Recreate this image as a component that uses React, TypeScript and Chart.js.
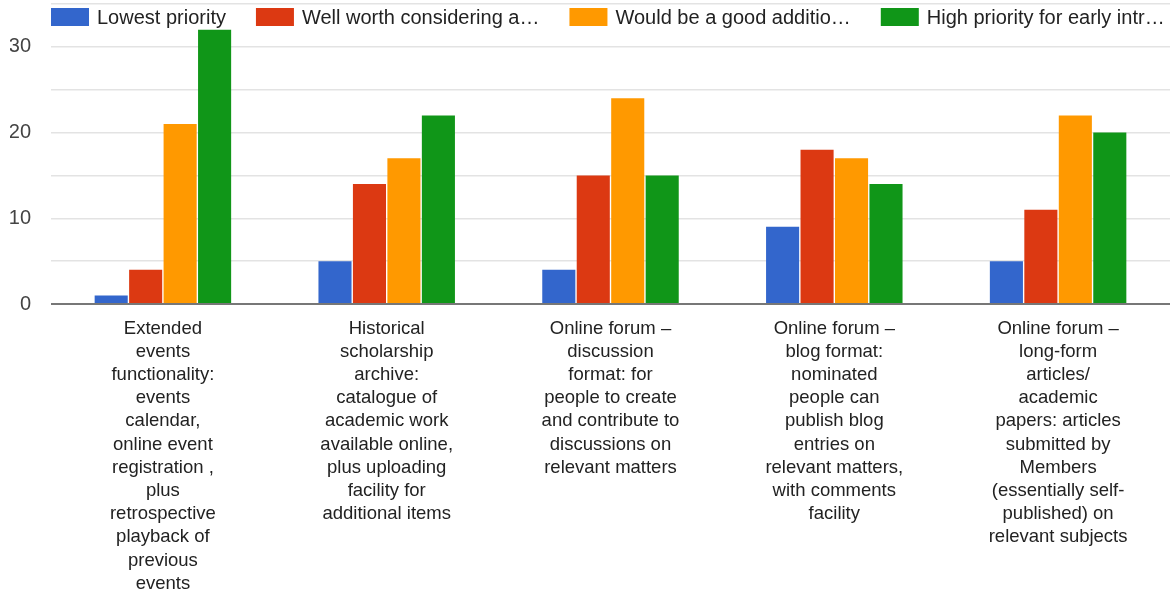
import React, { useEffect, useRef } from "react";
import { Chart, registerables } from "chart.js";

Chart.register(...registerables);

const categories: string[][] = [
  ["Extended", "events", "functionality:", "events", "calendar,", "online event", "registration ,", "plus", "retrospective", "playback of", "previous", "events"],
  ["Historical", "scholarship", "archive:", "catalogue of", "academic work", "available online,", "plus uploading", "facility for", "additional items"],
  ["Online forum –", "discussion", "format: for", "people to create", "and contribute to", "discussions on", "relevant matters"],
  ["Online forum –", "blog format:", "nominated", "people can", "publish blog", "entries on", "relevant matters,", "with comments", "facility"],
  ["Online forum –", "long-form", "articles/", "academic", "papers: articles", "submitted by", "Members", "(essentially self-", "published) on", "relevant subjects"],
];

const seriesLabels = [
  "Lowest priority",
  "Well worth considering a…",
  "Would be a good additio…",
  "High priority for early intr…",
];

const lowest = [1, 5, 4, 9, 5];
const wellWorth = [4, 14, 15, 18, 11];
const goodAddition = [21, 17, 24, 17, 22];
const highPriority = [32, 22, 15, 14, 20];

const colors = ["#3366cc", "#dc3912", "#ff9900", "#109618"];

const yTicks = [0, 10, 20, 30];

const FONT = "'Liberation Sans', Arial, sans-serif";

const legendPlugin = {
  id: "customLegend",
  afterDraw(chart: any) {
    const { ctx, chartArea } = chart;
    ctx.save();
    ctx.font = `20px ${FONT}`;
    ctx.textBaseline = "middle";
    ctx.textAlign = "left";
    let x = chartArea.left;
    const boxTop = 8;
    const boxH = 18;
    const boxW = 38;
    chart.data.datasets.forEach((ds: any) => {
      ctx.fillStyle = ds.backgroundColor;
      ctx.fillRect(x, boxTop, boxW, boxH);
      x += boxW + 8;
      ctx.fillStyle = "#222222";
      ctx.fillText(ds.label, x, boxTop + boxH / 2 + 1);
      x += ctx.measureText(ds.label).width + 30;
    });
    ctx.restore();
  },
};

export default function App() {
  const ref = useRef<HTMLCanvasElement>(null);

  useEffect(() => {
    document.body.style.margin = "0";
    const seriesValues = [lowest, wellWorth, goodAddition, highPriority];
    const chart = new Chart(ref.current as HTMLCanvasElement, {
      type: "bar",
      data: {
        labels: categories,
        datasets: seriesValues.map((vals, i) => ({
          label: seriesLabels[i],
          data: vals,
          backgroundColor: colors[i],
          borderWidth: 0,
          categoryPercentage: 0.616,
          barPercentage: 0.96,
        })),
      },
      options: {
        animation: false,
        responsive: false,
        maintainAspectRatio: false,
        layout: { padding: { top: 4, left: 10, right: 1, bottom: 0 } },
        plugins: {
          legend: { display: false },
          tooltip: { enabled: false },
        },
        scales: {
          x: {
            grid: { display: false, drawTicks: false },
            border: { display: false },
            ticks: {
              autoSkip: false,
              maxRotation: 0,
              minRotation: 0,
              padding: 13,
              color: "#222222",
              font: { family: FONT, size: 18.5, lineHeight: 1.254 },
            },
            afterFit: (s: any) => {
              s.height = 289;
              s.paddingLeft = 0;
              s.paddingRight = 0;
            },
          },
          y: {
            min: 0,
            max: 35,
            border: { display: false },
            grid: {
              drawTicks: false,
              color: (c: any) => (c.tick && c.tick.value === 0 ? "#777777" : "#e3e3e3"),
              lineWidth: (c: any) => (c.tick && c.tick.value === 0 ? 2 : 1.5),
            },
            ticks: {
              stepSize: 5,
              padding: 20,
              color: "#444444",
              font: { family: FONT, size: 20 },
              callback: (v: any) => (yTicks.includes(Number(v)) ? String(v) : ""),
            },
            afterFit: (s: any) => {
              s.width = 41;
              s.paddingTop = 0;
              s.paddingBottom = 0;
            },
          },
        },
      },
      plugins: [legendPlugin],
    });
    return () => chart.destroy();
  }, []);

  return (
    <div style={{ width: 1171, height: 593 }}>
      <canvas ref={ref} width={1171} height={593} style={{ display: "block" }} />
    </div>
  );
}
